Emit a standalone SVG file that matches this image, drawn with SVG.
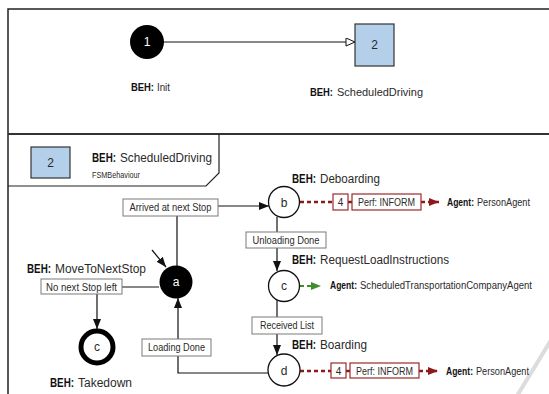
<svg xmlns="http://www.w3.org/2000/svg" width="549" height="394" viewBox="0 0 549 394">
<style>
text{font-family:"Liberation Sans",Arial,sans-serif;fill:#2a2a2a}
.b{font-weight:bold;fill:#111}
.beh{font-size:12.5px}
.sm{font-size:10px}
.lbl{font-size:10px;text-anchor:middle}
.lb{fill:#fff;stroke:#7a7a7a;stroke-width:1}
.st{fill:#fff;stroke:#111;stroke-width:1.3}
.nl{font-size:12px;text-anchor:middle}
.con{fill:none;stroke:#111;stroke-width:1.2}
.red{fill:none;stroke:#8b1a1a;stroke-width:2.5;stroke-dasharray:4 3}
.grn{fill:none;stroke:#3e8e2e;stroke-width:2;stroke-dasharray:4 3}
.rb{fill:#fff;stroke:#9b2a2a;stroke-width:1.2}
.blue{fill:#b3cfea;stroke:#333;stroke-width:1.2}
</style>
<defs>
<marker id="arr" markerUnits="userSpaceOnUse" markerWidth="12" markerHeight="10" refX="10" refY="4" orient="auto"><path d="M0,0 L10,4 L0,8 Z" fill="#111"/></marker>
<marker id="open" markerUnits="userSpaceOnUse" markerWidth="12" markerHeight="10" refX="10" refY="4.5" orient="auto"><path d="M1,0.5 L10,4.5 L1,8.5 Z" fill="#fff" stroke="#111" stroke-width="1"/></marker>
<marker id="arrR" markerUnits="userSpaceOnUse" markerWidth="12" markerHeight="10" refX="10" refY="4" orient="auto"><path d="M0,0 L10,4 L0,8 Z" fill="#8b1a1a"/></marker>
<marker id="arrG" markerUnits="userSpaceOnUse" markerWidth="12" markerHeight="10" refX="10" refY="4" orient="auto"><path d="M0,0 L10,4 L0,8 Z" fill="#3e8e2e"/></marker>
</defs>
<rect width="549" height="394" fill="#fff"/>
<!-- frame -->
<g id="frame" fill="none">
<path d="M549,9 H8 V394" stroke="#222" stroke-width="1.5"/>
<line x1="8" y1="134" x2="549" y2="134" stroke="#333" stroke-width="2"/>
<path d="M8,186 H206 L219,173 V134" stroke="#222" stroke-width="1.2"/>
<line x1="551" y1="340" x2="517" y2="396" stroke="#dcdcdc" stroke-width="4"/>
</g>
<!-- connectors -->
<g id="connectors">
<line class="con" x1="164" y1="42" x2="355" y2="42" marker-end="url(#open)"/>
<path class="con" d="M152,250 L166,267" marker-end="url(#arr)" stroke-width="1.6"/>
<path class="con" d="M177,266 V206 H269" marker-end="url(#arr)"/>
<path class="con" d="M277,217 V271" marker-end="url(#arr)"/>
<path class="con" d="M277,300 V355" marker-end="url(#arr)"/>
<path class="con" d="M268,373 H178 V298" marker-end="url(#arr)"/>
<path class="con" d="M159,287 H97 V329" marker-end="url(#arr)"/>
<path class="red" d="M300,202 H333"/>
<path class="red" d="M348,202 H352"/>
<path class="red" d="M421,202 H439" marker-end="url(#arrR)"/>
<path class="red" d="M300,371 H331"/>
<path class="red" d="M346,371 H350"/>
<path class="red" d="M419,371 H438" marker-end="url(#arrR)"/>
<path class="grn" d="M300,286 H321" marker-end="url(#arrG)"/>
</g>
<!-- labels on connectors -->
<g id="edge-labels">
<rect class="lb" x="123" y="199" width="95" height="17"/>
<text class="lbl" x="170.5" y="211" textLength="82" lengthAdjust="spacingAndGlyphs">Arrived at next Stop</text>
<rect class="lb" x="246" y="232" width="80" height="16"/>
<text class="lbl" x="286" y="243.5" textLength="67" lengthAdjust="spacingAndGlyphs">Unloading Done</text>
<rect class="lb" x="252" y="317" width="70" height="17"/>
<text class="lbl" x="287" y="329" textLength="54" lengthAdjust="spacingAndGlyphs">Received List</text>
<rect class="lb" x="142" y="339" width="69" height="17"/>
<text class="lbl" x="176.5" y="351" textLength="57" lengthAdjust="spacingAndGlyphs">Loading Done</text>
<rect class="lb" x="41" y="279" width="81" height="15"/>
<text class="lbl" x="81.5" y="290.5" textLength="71" lengthAdjust="spacingAndGlyphs">No next Stop left</text>
<rect class="rb" x="333" y="194" width="15" height="16"/>
<text class="lbl" x="340.5" y="206" font-size="11">4</text>
<rect class="rb" x="352" y="194" width="69" height="16"/>
<text class="lbl" x="386.5" y="206" textLength="57" lengthAdjust="spacingAndGlyphs">Perf: INFORM</text>
<rect class="rb" x="331" y="363" width="15" height="15"/>
<text class="lbl" x="338.5" y="374.5" font-size="11">4</text>
<rect class="rb" x="350" y="363" width="69" height="15"/>
<text class="lbl" x="384.5" y="374.5" textLength="57" lengthAdjust="spacingAndGlyphs">Perf: INFORM</text>
<text class="sm b" x="447" y="206" textLength="27" lengthAdjust="spacingAndGlyphs">Agent:</text>
<text class="sm" x="477" y="206" textLength="53" lengthAdjust="spacingAndGlyphs">PersonAgent</text>
<text class="sm b" x="446" y="375" textLength="27" lengthAdjust="spacingAndGlyphs">Agent:</text>
<text class="sm" x="476" y="375" textLength="53" lengthAdjust="spacingAndGlyphs">PersonAgent</text>
<text class="sm b" x="330" y="289" textLength="27" lengthAdjust="spacingAndGlyphs">Agent:</text>
<text class="sm" x="360" y="289" textLength="172" lengthAdjust="spacingAndGlyphs">ScheduledTransportationCompanyAgent</text>
</g>
<!-- nodes -->
<g id="node-1">
<circle cx="147" cy="42" r="17" fill="#000"/>
<text class="nl" x="147" y="46" style="fill:#fff" font-size="10.5">1</text>
<text class="b" x="131" y="91" font-size="11" textLength="23" lengthAdjust="spacingAndGlyphs">BEH:</text>
<text x="157" y="91" font-size="11" textLength="13" lengthAdjust="spacingAndGlyphs">Init</text>
</g>
<g id="node-2">
<rect class="blue" x="355" y="24" width="39" height="42"/>
<text class="nl" x="374.5" y="49" font-size="12.5">2</text>
<text class="b" x="310" y="96" font-size="11" textLength="23" lengthAdjust="spacingAndGlyphs">BEH:</text>
<text x="337" y="96" font-size="11" textLength="86" lengthAdjust="spacingAndGlyphs">ScheduledDriving</text>
</g>
<g id="tab-2">
<rect class="blue" x="31" y="147" width="39" height="31"/>
<text class="nl" x="50.5" y="167" font-size="12.5">2</text>
<text class="beh b" x="92" y="162" textLength="24" lengthAdjust="spacingAndGlyphs">BEH:</text>
<text class="beh" x="120" y="162" textLength="92" lengthAdjust="spacingAndGlyphs">ScheduledDriving</text>
<text x="92" y="178" font-size="9" textLength="48" lengthAdjust="spacingAndGlyphs">FSMBehaviour</text>
</g>
<g id="node-a">
<circle cx="176" cy="282" r="16.5" fill="#000"/>
<text class="nl" x="176" y="286" style="fill:#fff" font-size="11">a</text>
<text class="beh b" x="27" y="273" textLength="24" lengthAdjust="spacingAndGlyphs">BEH:</text>
<text class="beh" x="55" y="273" textLength="91" lengthAdjust="spacingAndGlyphs">MoveToNextStop</text>
</g>
<g id="node-b">
<circle class="st" cx="284" cy="202" r="15.5"/>
<text class="nl" x="284" y="206.5">b</text>
<text class="beh b" x="292" y="183" textLength="24" lengthAdjust="spacingAndGlyphs">BEH:</text>
<text class="beh" x="320" y="183" textLength="60" lengthAdjust="spacingAndGlyphs">Deboarding</text>
</g>
<g id="node-c">
<circle class="st" cx="284" cy="286" r="15.5"/>
<text class="nl" x="284" y="290">c</text>
<text class="beh b" x="292" y="264" textLength="24" lengthAdjust="spacingAndGlyphs">BEH:</text>
<text class="beh" x="320" y="264" textLength="129" lengthAdjust="spacingAndGlyphs">RequestLoadInstructions</text>
</g>
<g id="node-d">
<circle class="st" cx="284" cy="370" r="16"/>
<text class="nl" x="284" y="374.5">d</text>
<text class="beh b" x="292" y="349" textLength="24" lengthAdjust="spacingAndGlyphs">BEH:</text>
<text class="beh" x="320" y="349" textLength="47" lengthAdjust="spacingAndGlyphs">Boarding</text>
</g>
<g id="node-final">
<circle cx="97" cy="347" r="16" fill="#fff" stroke="#000" stroke-width="5"/>
<text class="nl" x="97" y="351" font-size="11">c</text>
<text class="beh b" x="50" y="387" textLength="24" lengthAdjust="spacingAndGlyphs">BEH:</text>
<text class="beh" x="78" y="387" textLength="54" lengthAdjust="spacingAndGlyphs">Takedown</text>
</g>
</svg>
